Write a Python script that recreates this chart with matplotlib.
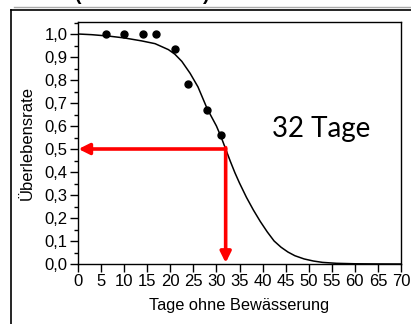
import matplotlib
matplotlib.use("Agg")
import matplotlib.pyplot as plt
from matplotlib.lines import Line2D
from matplotlib.ticker import MultipleLocator, FuncFormatter

# Observed data points
obs_days = [6.1, 10.0, 14.1, 16.9, 21.0, 23.9, 28.0, 31.0]
obs_surv = [1.0, 1.0, 1.0, 1.0, 0.933, 0.781, 0.670, 0.559]

# Fitted curve
curve_days = [0, 3, 6.6, 10, 13.8, 16.7, 19.6, 21, 22.5, 24.3, 26, 28, 30, 31, 32, 33, 34, 35,
              36.5, 38, 39.5, 41, 42.5, 44, 45.5, 47, 49, 51, 53, 56, 60, 65, 70]
curve_surv = [1.0, 0.997, 0.991, 0.983, 0.970, 0.958, 0.932, 0.912, 0.881, 0.829, 0.77, 0.675,
              0.60, 0.553, 0.50, 0.447, 0.397, 0.352, 0.29, 0.235, 0.185, 0.14, 0.10, 0.073,
              0.052, 0.036, 0.022, 0.013, 0.007, 0.003, 0.001, 0.0003, 0.0]

median_day = 32
median_surv = 0.5
annotation = "32 Tage"
xlabel = "Tage ohne Bewässerung"
ylabel = "Überlebensrate"

plt.rcParams['font.family'] = ['Liberation Sans', 'DejaVu Sans']

fig = plt.figure(figsize=(4.11, 3.24), dpi=100)
ax = fig.add_axes([78/411, 1-264/324, (401-78)/411, (264-22)/324])

ax.plot(curve_days, curve_surv, color='black', lw=1.1, zorder=3)
ax.plot(obs_days, obs_surv, 'o', color='black', ms=5, zorder=4)

red = '#ff0000'
ax.annotate('', xy=(0.1, median_surv), xytext=(median_day, median_surv),
            arrowprops=dict(arrowstyle='-|>', color=red, lw=2.6, mutation_scale=16,
                            shrinkA=0, shrinkB=0), zorder=5)
ax.annotate('', xy=(median_day, 0.005), xytext=(median_day, median_surv + 0.006),
            arrowprops=dict(arrowstyle='-|>', color=red, lw=2.6, mutation_scale=16,
                            shrinkA=0, shrinkB=0), zorder=5)

ax.text(52.8, 0.585, annotation, fontsize=20, family=['Lato', 'DejaVu Sans'],
        ha='center', va='center')

ax.set_xlim(0, 70)
ax.set_ylim(0, (264-22)/230)
ax.xaxis.set_major_locator(MultipleLocator(5))
ax.set_yticks([i/10 for i in range(11)])
ax.yaxis.set_minor_locator(MultipleLocator(0.05))
ax.yaxis.set_major_formatter(FuncFormatter(lambda v, p: f"{v:.1f}".replace('.', ',')))
ax.tick_params(axis='both', which='major', direction='out', length=6, width=1,
               labelsize=12, pad=1.5)
ax.tick_params(axis='y', which='minor', direction='out', length=3, width=1)
for s in ax.spines.values():
    s.set_linewidth(1)

ax.set_xlabel(xlabel, fontsize=11.8, labelpad=6)
ax.set_ylabel(ylabel, fontsize=12, labelpad=7)

# outer frame lines
fig.add_artist(Line2D([11/411, 11/411], [0, 1-10/324], color='black', lw=1.2))
fig.add_artist(Line2D([11/411, 1], [1-10/324, 1-10/324], color='black', lw=1.2))
fig.add_artist(Line2D([14/411, 1], [1-7/324, 1-7/324], color='#aaaaaa', lw=1))
fig.text(75/411, 1-4/324, "(", fontsize=14, fontweight='bold', va='bottom')
fig.text(203/411, 1-4/324, ")", fontsize=14, fontweight='bold', va='bottom')

fig.savefig("out.png", dpi=100)
